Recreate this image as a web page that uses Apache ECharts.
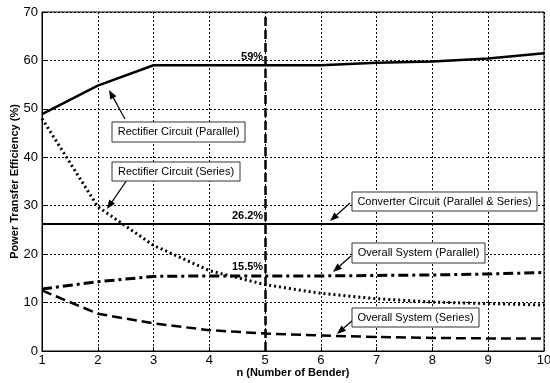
<!DOCTYPE html>
<html><head><meta charset="utf-8">
<script src="https://cdn.jsdelivr.net/npm/echarts@6/dist/echarts.min.js"></script>
<style>html,body{margin:0;padding:0;background:#fff}#c{width:550px;height:383px}</style>
</head><body><div id="c"></div>
<script>
const nValues = [1,2,3,4,5,6,7,8,9,10];
const rectParallel = [48.9,54.8,59.0,59.0,59.0,59.0,59.5,59.8,60.4,61.5];
const rectSeries   = [48.0,29.8,21.8,16.6,13.7,11.9,10.8,10.1,9.8,9.5];
const converter    = [26.2,26.2,26.2,26.2,26.2,26.2,26.2,26.2,26.2,26.2];
const overallPar   = [12.8,14.3,15.4,15.5,15.5,15.5,15.6,15.7,15.9,16.2];
const overallSer   = [12.5,7.7,5.7,4.3,3.6,3.2,2.9,2.7,2.6,2.6];
const yTicks = [0,10,20,30,40,50,60,70];
const markX = 5;
const pctLabels = [{v:59,t:'59%'},{v:26.2,t:'26.2%'},{v:15.5,t:'15.5%'}];

const FONT = '"Liberation Sans", Arial, sans-serif';
const pair = a => a.map((v,i)=>[nValues[i],v]);
const chart = echarts.init(document.getElementById('c'));
const lineS = (data, type, w) => ({
  type:'line', data:pair(data), symbol:'none', silent:true,
  lineStyle:{color:'#000', width:w, type:type}
});
const series = [
  lineS(rectParallel,'solid',2.5),
  lineS(rectSeries,[2,3],3),
  lineS(converter,'solid',2),
  lineS(overallPar,[10,4,3,4],3),
  lineS(overallSer,[10,5],2.5)
];
series[0].markLine = {symbol:'none', silent:true, label:{show:false},
  lineStyle:{color:'#000', width:2.5, type:[9,4]}, data:[{xAxis:markX}]};

chart.setOption({
  animation:false,
  grid:{left:42,right:6,top:12,bottom:32,containLabel:false,outerBoundsMode:'none',
    show:true,borderColor:'#000',borderWidth:1},
  xAxis:{type:'value',min:1,max:10,interval:1,
    name:'n (Number of Bender)',nameLocation:'middle',nameGap:16,nameMoveOverlap:false,
    nameTextStyle:{fontFamily:FONT,fontSize:11,fontWeight:'bold',color:'#000'},
    axisLine:{lineStyle:{color:'#000'}},axisTick:{inside:true,length:4,lineStyle:{color:'#000'}},
    axisLabel:{fontFamily:FONT,fontSize:13,color:'#000',margin:3},
    splitLine:{lineStyle:{color:'#000',type:[2,2],width:1}}},
  yAxis:{type:'value',min:0,max:70,interval:10,
    name:'Power Transfer Efficiency (%)',nameLocation:'middle',nameGap:22,nameMoveOverlap:false,
    nameTextStyle:{fontFamily:FONT,fontSize:11,fontWeight:'bold',color:'#000'},
    axisLine:{lineStyle:{color:'#000'}},axisTick:{inside:true,length:4,lineStyle:{color:'#000'}},
    axisLabel:{fontFamily:FONT,fontSize:13,color:'#000',margin:4,
      formatter:v=>yTicks.includes(v)?String(v):''},
    splitLine:{lineStyle:{color:'#000',type:[2,2],width:1}}},
  series:series
});

function arrow(x1,y1,x2,y2){
  const a=Math.atan2(y2-y1,x2-x1), L=9, W=3.5;
  const bx=x2-L*Math.cos(a), by=y2-L*Math.sin(a);
  const px=-Math.sin(a)*W, py=Math.cos(a)*W;
  return [
    {type:'line',shape:{x1:x1,y1:y1,x2:bx,y2:by},style:{stroke:'#000',lineWidth:1.2}},
    {type:'polygon',shape:{points:[[x2,y2],[bx+px,by+py],[bx-px,by-py]]},style:{fill:'#000'}}
  ];
}
function box(x,y,w,h,text){
  return {type:'group',children:[
    {type:'rect',shape:{x:x,y:y,width:w,height:h},style:{fill:'#fff',stroke:'#333',lineWidth:1}},
    {type:'text',x:x+w/2,y:y+h/2,style:{text:text,font:'11px '+FONT,fill:'#000',align:'center',verticalAlign:'middle'}}
  ]};
}
const g=[];
g.push(...arrow(125,119,109,90));
g.push(box(112,122,133,20,'Rectifier Circuit (Parallel)'));
g.push(...arrow(127,180,107,209));
g.push(box(112,162,128,19,'Rectifier Circuit (Series)'));
g.push(...arrow(350,203,330,221));
g.push(box(352,192,185,19,'Converter Circuit (Parallel & Series)'));
g.push(...arrow(351,256,333,272));
g.push(box(352,243,133,20,'Overall System (Parallel)'));
g.push(...arrow(353,320,337,334));
g.push(box(352,308,127,19,'Overall System (Series)'));
pctLabels.forEach(p=>{
  const pt=chart.convertToPixel({gridIndex:0},[markX,p.v]);
  g.push({type:'text',x:pt[0]-2,y:pt[1]-3,style:{text:p.t,font:'bold 11px '+FONT,fill:'#000',align:'right',verticalAlign:'bottom'}});
});
chart.setOption({graphic:g});
</script></body></html>
